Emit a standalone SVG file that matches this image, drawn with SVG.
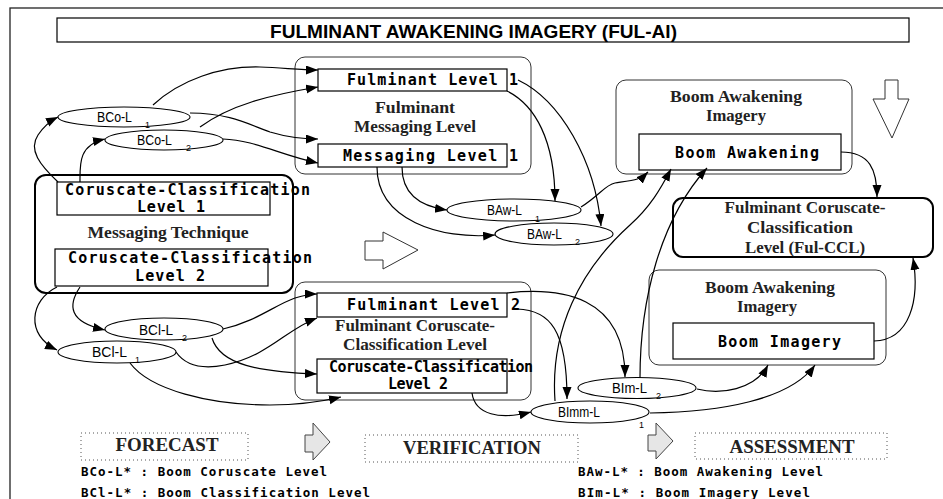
<svg xmlns="http://www.w3.org/2000/svg" width="943" height="499" viewBox="0 0 943 499">
<style>
.frame{fill:none;stroke:#222;stroke-width:1.3}
.grp{fill:#fff;stroke:#333;stroke-width:1}
.grpb{fill:#fff;stroke:#000;stroke-width:2}
.box{fill:none;stroke:#000;stroke-width:1.2}
.ell{fill:none;stroke:#000;stroke-width:1.1}
.dot{fill:none;stroke:#555;stroke-width:1;stroke-dasharray:1 3}
.con{fill:none;stroke:#000;stroke-width:1.2}
.mono{font-family:"DejaVu Sans Mono","Liberation Mono",monospace;font-weight:bold;font-size:15px;fill:#000}
.serif{font-family:"Liberation Serif","Times New Roman",serif;font-weight:bold;font-size:16px;fill:#222;text-anchor:middle}
.lbl{font-family:"Liberation Sans",Arial,sans-serif;font-size:15px;fill:#000}
.sub{font-family:"Liberation Sans",Arial,sans-serif;font-size:9px;fill:#000}
.leg{font-family:"DejaVu Sans Mono","Liberation Mono",monospace;font-weight:bold;font-size:12.5px;fill:#000}
.stage{font-family:"Liberation Serif","Times New Roman",serif;font-weight:bold;font-size:18px;fill:#222;text-anchor:middle}
</style>
<defs>
<marker id="ah" markerUnits="userSpaceOnUse" markerWidth="13" markerHeight="10" refX="12" refY="4.5" orient="auto">
<path d="M0,0 L12,4.5 L0,9 Z" fill="#000"/>
</marker>
</defs>
<rect class="frame" x="10" y="8" width="960" height="520"/>
<g id="title">
<rect class="box" x="57" y="18" width="852" height="24" stroke-width="1"/>
<text x="270" y="38" font-family="Liberation Sans,Arial,sans-serif" font-weight="bold" font-size="18" textLength="407" lengthAdjust="spacingAndGlyphs">FULMINANT AWAKENING IMAGERY (FUL-AI)</text>
</g>
<g id="messaging-technique">
<rect class="grpb" x="35" y="175" width="258" height="118" rx="11"/>
<rect class="box" x="57" y="182" width="213" height="33"/>
<text class="mono" x="65" y="195" font-size="14" textLength="245" lengthAdjust="spacing">Coruscate-Classification</text>
<text class="mono" x="137" y="212" font-size="14" textLength="68" lengthAdjust="spacing">Level 1</text>
<text class="serif" x="168" y="238" textLength="161" lengthAdjust="spacingAndGlyphs">Messaging Technique</text>
<rect class="box" x="55" y="249" width="213" height="37"/>
<text class="mono" x="68" y="263" font-size="14" textLength="244" lengthAdjust="spacing">Coruscate-Classification</text>
<text class="mono" x="135" y="281" font-size="14" textLength="70" lengthAdjust="spacing">Level 2</text>
</g>
<g id="fulminant-messaging-level">
<rect class="grp" x="295" y="57" width="236" height="117" rx="10"/>
<rect class="box" x="318" y="69" width="189" height="22"/>
<text class="mono" x="347" y="85" textLength="171" lengthAdjust="spacing">Fulminant Level 1</text>
<text class="serif" x="415" y="113" textLength="80" lengthAdjust="spacingAndGlyphs">Fulminant</text>
<text class="serif" x="415" y="132" textLength="122" lengthAdjust="spacingAndGlyphs">Messaging Level</text>
<rect class="box" x="318" y="144" width="189" height="23"/>
<text class="mono" x="343" y="161" textLength="175" lengthAdjust="spacing">Messaging Level 1</text>
</g>
<g id="fulminant-cc-level">
<rect class="grp" x="295" y="282" width="236" height="118" rx="10"/>
<rect class="box" x="317" y="293" width="190" height="24"/>
<text class="mono" x="347" y="310" textLength="173" lengthAdjust="spacing">Fulminant Level 2</text>
<text class="serif" x="415" y="331" textLength="160" lengthAdjust="spacingAndGlyphs">Fulminant Coruscate-</text>
<text class="serif" x="415" y="350" textLength="144" lengthAdjust="spacingAndGlyphs">Classification Level</text>
<rect class="box" x="317" y="359" width="190" height="34"/>
<text class="mono" x="329" y="372" font-size="12" textLength="204" lengthAdjust="spacing">Coruscate-Classification</text>
<text class="mono" x="388" y="389" font-size="12" textLength="60" lengthAdjust="spacing">Level 2</text>
</g>
<g id="boom-awakening-imagery-1">
<rect class="grp" x="616" y="80" width="236" height="94" rx="10"/>
<text class="serif" x="736" y="102" textLength="132" lengthAdjust="spacingAndGlyphs">Boom Awakening</text>
<text class="serif" x="736" y="121" textLength="60" lengthAdjust="spacingAndGlyphs">Imagery</text>
<rect class="box" x="639" y="134" width="202" height="36" fill="#fff"/>
<text class="mono" x="675" y="158" textLength="144" lengthAdjust="spacing">Boom Awakening</text>
</g>
<g id="ful-ccl">
<rect class="grpb" x="673" y="198" width="260" height="59" rx="10"/>
<text class="serif" x="805" y="213" textLength="161" lengthAdjust="spacingAndGlyphs">Fulminant Coruscate-</text>
<text class="serif" x="800" y="233" textLength="106" lengthAdjust="spacingAndGlyphs">Classification</text>
<text class="serif" x="805" y="253" textLength="120" lengthAdjust="spacingAndGlyphs">Level (Ful-CCL)</text>
</g>
<g id="boom-awakening-imagery-2">
<rect class="grp" x="649" y="270" width="237" height="95" rx="10"/>
<text class="serif" x="770" y="293" textLength="130" lengthAdjust="spacingAndGlyphs">Boom Awakening</text>
<text class="serif" x="767" y="312" textLength="60" lengthAdjust="spacingAndGlyphs">Imagery</text>
<rect class="box" x="673" y="323" width="201" height="36"/>
<text class="mono" x="718" y="347" textLength="123" lengthAdjust="spacing">Boom Imagery</text>
</g>
<g id="bco-l1"><ellipse class="ell" cx="124" cy="117" rx="66" ry="10"/><text class="lbl" x="97" y="122" textLength="35" lengthAdjust="spacingAndGlyphs">BCo-L</text><text class="sub" x="145" y="128">1</text></g>
<g id="bco-l2"><ellipse class="ell" cx="164" cy="140" rx="59" ry="10"/><text class="lbl" x="137" y="145" textLength="35" lengthAdjust="spacingAndGlyphs">BCo-L</text><text class="sub" x="186" y="151">2</text></g>
<g id="bcl-l2"><ellipse class="ell" cx="164" cy="329" rx="59" ry="11"/><text class="lbl" x="139" y="335" textLength="34" lengthAdjust="spacingAndGlyphs">BCl-L</text><text class="sub" x="182" y="341">2</text></g>
<g id="bcl-l1"><ellipse class="ell" cx="117" cy="352" rx="59" ry="11"/><text class="lbl" x="92" y="357" textLength="35" lengthAdjust="spacingAndGlyphs">BCl-L</text><text class="sub" x="135" y="363">1</text></g>
<g id="baw-l1"><ellipse class="ell" cx="514" cy="210" rx="67" ry="11"/><text class="lbl" x="487" y="215" textLength="35" lengthAdjust="spacingAndGlyphs">BAw-L</text><text class="sub" x="535" y="222">1</text></g>
<g id="baw-l2"><ellipse class="ell" cx="554" cy="234" rx="59" ry="11"/><text class="lbl" x="527" y="239" textLength="35" lengthAdjust="spacingAndGlyphs">BAw-L</text><text class="sub" x="575" y="245">2</text></g>
<g id="bim-l2"><ellipse class="ell" cx="637" cy="388" rx="59" ry="10.5"/><text class="lbl" x="612" y="393" textLength="35" lengthAdjust="spacingAndGlyphs">BIm-L</text><text class="sub" x="656" y="399">2</text></g>
<g id="bimm-l1"><ellipse class="ell" cx="590" cy="412" rx="59" ry="11"/><text class="lbl" x="558" y="417" textLength="42" lengthAdjust="spacingAndGlyphs">BImm-L</text><text class="sub" x="639" y="428">1</text></g>
<g id="arrows-big">
<path d="M365,241 H383 V232 L418,250 L383,269 V260 H365 Z" fill="#fff" stroke="#333" stroke-width="1"/>
<path d="M885,80 H898 V99 H909 L892,138 L873,99 H885 Z" fill="#fff" stroke="#333" stroke-width="1"/>
<path d="M305,435 H313 V423 L330,442 L313,460 V452 H305 Z" fill="#e6e6e6" stroke="#444" stroke-width="1"/>
<path d="M648,435 H656 V423 L673,441 L656,459 V451 H648 Z" fill="#e6e6e6" stroke="#444" stroke-width="1"/>
</g>
<g id="stages">
<rect class="dot" x="81" y="433" width="167" height="27"/>
<text class="stage" x="167" y="451" textLength="103" lengthAdjust="spacingAndGlyphs">FORECAST</text>
<rect class="dot" x="365" y="435" width="213" height="27"/>
<text class="stage" x="472" y="454" textLength="138" lengthAdjust="spacingAndGlyphs">VERIFICATION</text>
<rect class="dot" x="695" y="433" width="192" height="26"/>
<text class="stage" x="792" y="453" textLength="125" lengthAdjust="spacingAndGlyphs">ASSESSMENT</text>
</g>
<g id="legend">
<text class="leg" x="81" y="476" textLength="246" lengthAdjust="spacing">BCo-L* : Boom Coruscate Level</text>
<text class="leg" x="81" y="497" textLength="289" lengthAdjust="spacing">BCl-L* : Boom Classification Level</text>
<text class="leg" x="578" y="476" textLength="245" lengthAdjust="spacing">BAw-L* : Boom Awakening Level</text>
<text class="leg" x="578" y="497" textLength="232" lengthAdjust="spacing">BIm-L* : Boom Imagery Level</text>
</g>
<g id="connectors">
<path class="con" marker-end="url(#ah)" d="M153,105 C180,80 220,66 260,67 C285,68 300,70 318,70"/>
<path class="con" marker-end="url(#ah)" d="M200,127 C230,105 270,95 318,87"/>
<path class="con" marker-end="url(#ah)" d="M190,113 C230,113 250,125 270,132 C290,138 305,139 318,139"/>
<path class="con" marker-end="url(#ah)" d="M223,139 C255,140 280,155 318,163"/>
<path class="con" marker-end="url(#ah)" d="M58,182 C40,165 28,150 38,135 C44,126 50,121 58,117"/>
<path class="con" marker-end="url(#ah)" d="M80,182 C80,165 78,145 105,139"/>
<path class="con" marker-end="url(#ah)" d="M57,287 C30,300 25,335 57,350"/>
<path class="con" marker-end="url(#ah)" d="M80,287 C68,305 68,322 105,330"/>
<path class="con" marker-end="url(#ah)" d="M223,329 C255,322 275,305 295,298 C305,295 312,294 317,294"/>
<path class="con" marker-end="url(#ah)" d="M176,352 C185,365 200,370 225,365 C270,355 285,330 317,318"/>
<path class="con" marker-end="url(#ah)" d="M212,338 C220,365 260,372 317,374"/>
<path class="con" marker-end="url(#ah)" d="M130,363 C150,390 210,405 270,405 C300,405 320,402 341,397"/>
<path class="con" marker-end="url(#ah)" d="M507,91 C535,105 555,140 555,201"/>
<path class="con" marker-end="url(#ah)" d="M518,80 C560,100 595,160 601,226"/>
<path class="con" marker-end="url(#ah)" d="M402,167 C402,185 410,205 447,210"/>
<path class="con" marker-end="url(#ah)" d="M377,167 C377,220 440,240 495,235"/>
<path class="con" marker-end="url(#ah)" d="M581,207 C600,195 605,185 615,183 C635,180 640,180 648,172"/>
<path class="con" marker-end="url(#ah)" d="M507,293 C560,287 625,295 625,377"/>
<path class="con" marker-end="url(#ah)" d="M517,309 C550,310 567,330 567,399"/>
<path class="con" marker-end="url(#ah)" d="M472,393 C475,415 500,420 531,412"/>
<path class="con" marker-end="url(#ah)" d="M555,401 C550,330 580,270 630,225 C650,207 660,190 671,169"/>
<path class="con" marker-end="url(#ah)" d="M640,378 C640,300 660,220 707,168"/>
<path class="con" marker-end="url(#ah)" d="M841,152 C870,152 877,170 877,197"/>
<path class="con" marker-end="url(#ah)" d="M874,341 C910,340 920,300 913,258"/>
<path class="con" marker-end="url(#ah)" d="M697,389 C720,395 755,390 768,365"/>
<path class="con" marker-end="url(#ah)" d="M650,413 C720,412 790,400 815,365"/>
</g>
</svg>
